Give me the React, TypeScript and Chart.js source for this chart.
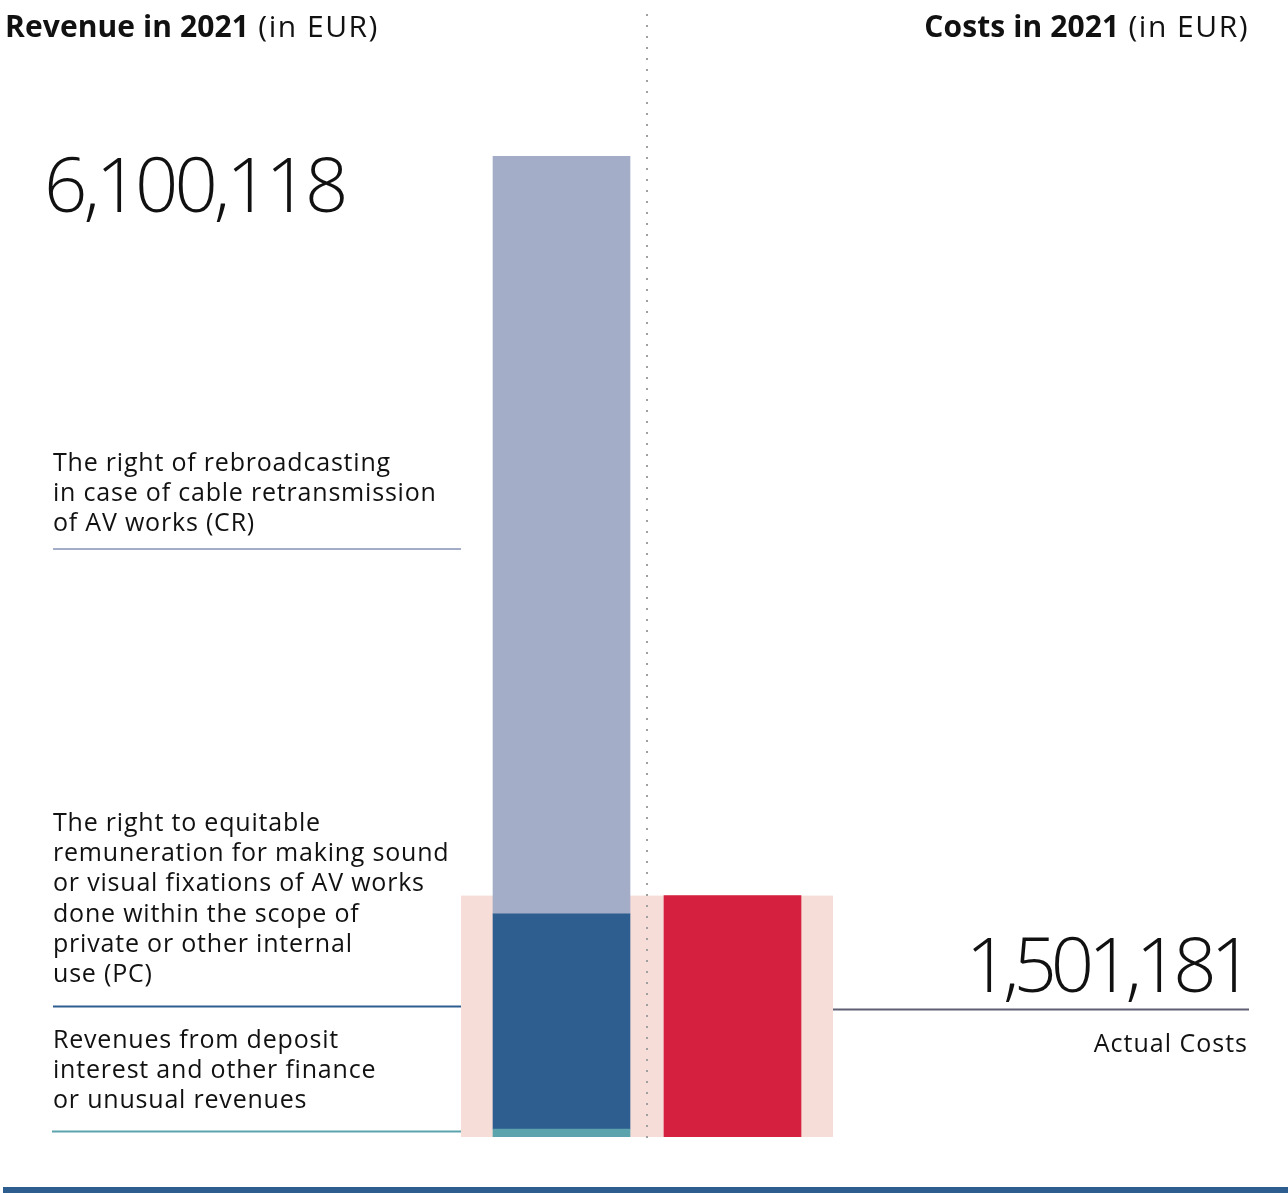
import React, { useEffect, useRef } from "react";
import { Chart, registerables } from "chart.js";

Chart.register(...registerables);

// ---- data ----
const categories = ["Revenue", "Costs"];
const segmentNames = ["Other revenues", "PC", "CR"];
const otherRevenues = [50000, null];
const pcRevenues = [1337000, null];
const crRevenues = [4713118, null];
const actualCosts = [null, 1501181];
const revenueTotal = 6100118;
const costTotal = 1501181;

const segmentColors = ["#5ba4ae", "#2e5e8f", "#a3adc8"];
const costColor = "#d5203f";
const pinkBg = "#f6ddd8";

const FONT = '"Open Sans", "Noto Sans", sans-serif';

const BAR = 137;

const decorPlugin = {
  id: "decor",
  beforeDatasetsDraw(chart: any) {
    const { ctx, scales } = chart;
    const x = scales.x;
    const y = scales.y;
    const x0 = x.getPixelForValue(0);
    const x1 = x.getPixelForValue(1);
    const left = x0 - BAR / 2 - 32;
    const right = x1 + BAR / 2 + 32;
    const top = y.getPixelForValue(costTotal);
    const bottom = y.getPixelForValue(0);
    ctx.save();
    ctx.fillStyle = pinkBg;
    ctx.fillRect(left, top, right - left, bottom - top);
    ctx.restore();
  },
  afterDatasetsDraw(chart: any) {
    const { ctx, scales } = chart;
    const x = scales.x;
    const y = scales.y;
    const x0 = x.getPixelForValue(0);
    const x1 = x.getPixelForValue(1);
    const mid = (x0 + x1) / 2;
    const bottom = y.getPixelForValue(0);
    const pinkLeft = x0 - BAR / 2 - 32;
    const pinkRight = x1 + BAR / 2 + 32;
    ctx.save();
    // dotted divider
    ctx.fillStyle = "#a0a0a0";
    for (let py = bottom; py >= 5; py -= 11) {
      ctx.fillRect(Math.round(mid) - 1, Math.round(py) - 1, 2, 2);
    }
    // leader lines
    const line = (xa: number, xb: number, yy: number, c: string, w: number) => {
      ctx.strokeStyle = c;
      ctx.lineWidth = w;
      ctx.beginPath();
      ctx.moveTo(xa, yy);
      ctx.lineTo(xb, yy);
      ctx.stroke();
    };
    line(53, pinkLeft, 549, segmentColors[2], 2);
    line(53, pinkLeft, 1006.5, segmentColors[1], 2);
    line(52, pinkLeft, 1131.5, segmentColors[0], 2);
    line(pinkRight, 1249, 1009.5, "#5e5f73", 2);
    // bottom rule
    ctx.fillStyle = "#2e5e8f";
    ctx.fillRect(3, 1187, 1285, 6);
    ctx.restore();
  },
};

const txt = (
  left: number | null,
  top: number,
  content: React.ReactNode,
  size: number,
  extra: React.CSSProperties = {}
) => (
  <div
    style={{
      position: "absolute",
      left: left === null ? undefined : left,
      top,
      fontFamily: FONT,
      fontSize: size,
      color: "#111",
      whiteSpace: "pre",
      lineHeight: "30px",
      letterSpacing: "0.8px",
      ...extra,
    }}
  >
    {content}
  </div>
);

const titleContent = (bold: string) => (
  <>
    <b style={{ letterSpacing: "0.1px" }}>{bold}</b>
    <span style={{ letterSpacing: "1.5px" }}> (in EUR)</span>
  </>
);

export default function App() {
  const ref = useRef<HTMLCanvasElement | null>(null);
  useEffect(() => {
    if (!ref.current) return;
    const chart = new Chart(ref.current, {
      type: "bar",
      data: {
        labels: categories,
        datasets: [
          { label: segmentNames[0], data: otherRevenues, backgroundColor: segmentColors[0] },
          { label: segmentNames[1], data: pcRevenues, backgroundColor: segmentColors[1] },
          { label: segmentNames[2], data: crRevenues, backgroundColor: segmentColors[2] },
          { label: "Actual Costs", data: actualCosts, backgroundColor: costColor },
        ] as any,
      },
      options: {
        animation: false,
        responsive: false,
        devicePixelRatio: 1,
        layout: { padding: { left: 476, right: 470, top: 156, bottom: 56 } },
        datasets: { bar: { barThickness: BAR, borderWidth: 0 } } as any,
        scales: {
          x: { stacked: true, display: false },
          y: { stacked: true, display: false, min: 0, max: revenueTotal },
        },
        plugins: { legend: { display: false }, tooltip: { enabled: false } },
      },
      plugins: [decorPlugin],
    });
    return () => chart.destroy();
  }, []);

  return (
    <div style={{ position: "absolute", left: 0, top: 0, width: 1288, height: 1193, background: "#fff", overflow: "hidden" }}>
      <canvas ref={ref} width={1288} height={1193} style={{ position: "absolute", left: 0, top: 0 }} />
      {txt(5, 8, titleContent("Revenue in 2021"), 30, { lineHeight: "36px", letterSpacing: "0px" })}
      {txt(null, 8, titleContent("Costs in 2021"), 30, { right: 39, lineHeight: "36px", letterSpacing: "0px" })}
      {txt(44, 141, "6,100,118", 76, { fontWeight: 300, lineHeight: "84px", letterSpacing: "-4px" })}
      {txt(53, 446, "The right of rebroadcasting\nin case of cable retransmission\nof AV works (CR)", 25)}
      {txt(53, 806, "The right to equitable\nremuneration for making sound\nor visual fixations of AV works\ndone within the scope of\nprivate or other internal\nuse (PC)", 25, { lineHeight: "30.2px" })}
      {txt(53, 1023, "Revenues from deposit\ninterest and other finance\nor unusual revenues", 25)}
      {txt(null, 921, "1,501,181", 76, { right: 40, fontWeight: 300, lineHeight: "84px", letterSpacing: "-6px" })}
      {txt(null, 1027, "Actual Costs", 25, { right: 40, letterSpacing: "1px" })}
    </div>
  );
}
